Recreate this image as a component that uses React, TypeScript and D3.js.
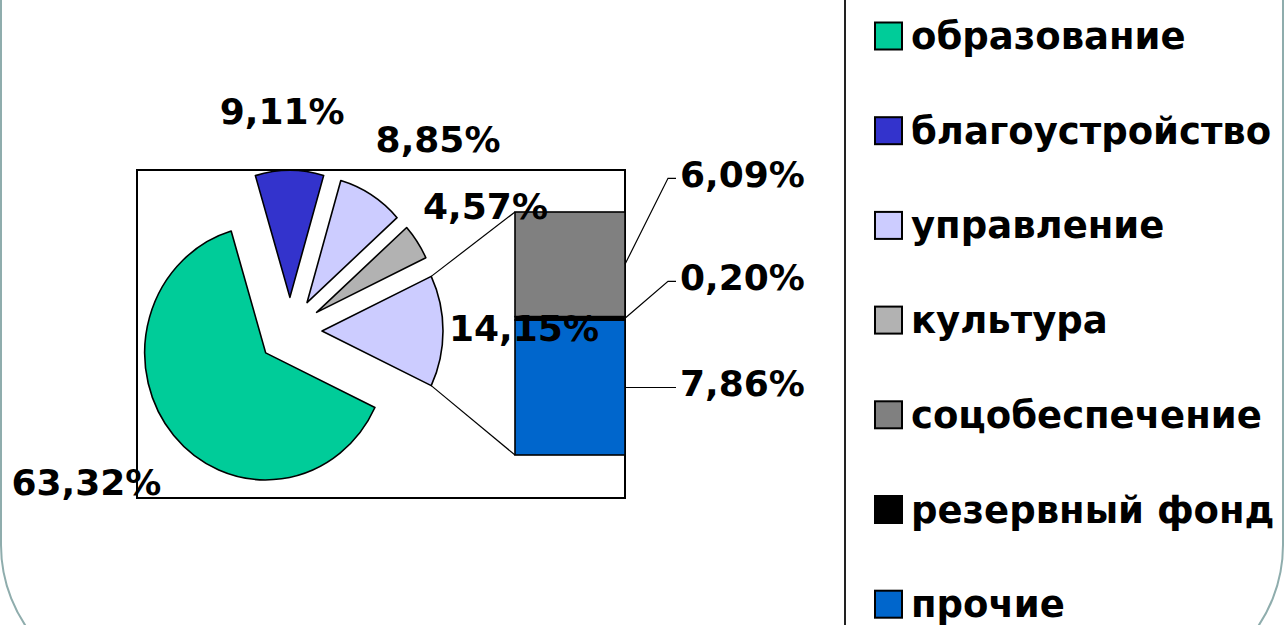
import React from "react";
import * as d3 from "d3";

// ---- data ----
const pieCategories = ["образование", "благоустройство", "управление", "культура"];
const pieValues = [63.32, 9.11, 8.85, 4.57];
const barCategories = ["соцобеспечение", "резервный фонд", "прочие"];
const barValues = [6.09, 0.2, 7.86];
const legendCategories = [
  "образование",
  "благоустройство",
  "управление",
  "культура",
  "соцобеспечение",
  "резервный фонд",
  "прочие",
];

// ---- styles ----
const colors: Record<string, string> = {
  "образование": "#00CC99",
  "благоустройство": "#3333CC",
  "управление": "#CCCCFF",
  "культура": "#B2B2B2",
  "соцобеспечение": "#808080",
  "резервный фонд": "#000000",
  "прочие": "#0066CC",
  other: "#CCCCFF",
};

const W = 1285;
const H = 625;
const FONT = "'DejaVu Sans', Verdana, sans-serif";

// layout
const plot = { x0: 137, y0: 170, x1: 625, y1: 498 };
const pieC = { x: 290, y: 331 };
const R = 121;
const KY = 1.05;
const EXPLODE = 32;
const LABEL_R = 235;
const pieLabelNudge = [
  [-25, -2],
  [-7, 15],
  [23, 7],
  [0, 5],
];
const otherLabelNudge = [-1, -3];
const bar = { x0: 515, x1: 625, y0: 212, y1: 455 };
const barLabelX = 680;
const barLabelShift = [-90, -41, -4];
const legend = { lineX: 845, sqX: 875, sq: 27, textX: 911, y0: 36, step: 94.7 };

const fmt = (v: number) => v.toFixed(2).replace(".", ",") + "%";

export default function App() {
  const otherValue = d3.sum(barValues);
  const total = d3.sum(pieValues) + otherValue;
  const otherAngle = (otherValue / total) * 2 * Math.PI;
  const start = Math.PI / 2 - otherAngle / 2;

  const items = [
    { key: "other", value: otherValue },
    ...pieCategories.map((c, i) => ({ key: c, value: pieValues[i] })),
  ];
  const pie = d3
    .pie<{ key: string; value: number }>()
    .sort(null)
    .value((d) => d.value)
    .startAngle(start)
    .endAngle(start + 2 * Math.PI);
  const arcs = pie(items);
  const arcGen = d3.arc<d3.PieArcDatum<{ key: string; value: number }>>().innerRadius(0).outerRadius(R);

  const offsetOf = (a: d3.PieArcDatum<any>) => {
    const mid = (a.startAngle + a.endAngle) / 2;
    return { dx: EXPLODE * Math.sin(mid), dy: -EXPLODE * Math.cos(mid), mid };
  };
  const toScreen = (x: number, y: number) => ({ x: pieC.x + x, y: pieC.y + y * KY });

  // other slice corners
  const otherArc = arcs[0];
  const oo = offsetOf(otherArc);
  const pTop = toScreen(oo.dx + R * Math.sin(otherArc.startAngle), oo.dy - R * Math.cos(otherArc.startAngle));
  const pBot = toScreen(oo.dx + R * Math.sin(otherArc.endAngle), oo.dy - R * Math.cos(otherArc.endAngle));

  // bar
  const yBar = d3.scaleLinear().domain([0, otherValue]).range([bar.y1, bar.y0]);
  // stacked from bottom: прочие, резервный фонд, соцобеспечение
  const stackOrder = [2, 1, 0];
  let acc = 0;
  const segs: { i: number; lo: number; hi: number }[] = [];
  stackOrder.forEach((i) => {
    segs.push({ i, lo: acc, hi: acc + barValues[i] });
    acc += barValues[i];
  });

  return (
    <svg
      width={W}
      height={H}
      style={{ position: "absolute", left: 0, top: 0, display: "block", background: "#fff" }}
      fontFamily={FONT}
    >
      {/* slide frame */}
      <rect x={1} y={-300} width={1282} height={990} rx={145} ry={145} fill="none" stroke="#8fadad" strokeWidth={2} />

      {/* plot area */}
      <rect
        x={plot.x0}
        y={plot.y0}
        width={plot.x1 - plot.x0}
        height={plot.y1 - plot.y0}
        fill="#fff"
        stroke="#000"
        strokeWidth={2}
      />

      {/* pie slices */}
      <g transform={`translate(${pieC.x},${pieC.y}) scale(1,${KY})`}>
        {arcs.map((a) => {
          const o = offsetOf(a);
          return (
            <path
              key={a.data.key}
              d={arcGen(a) || ""}
              transform={`translate(${o.dx},${o.dy})`}
              fill={colors[a.data.key]}
              stroke="#000"
              strokeWidth={1.6}
              vectorEffect="non-scaling-stroke"
              strokeLinejoin="round"
            />
          );
        })}
      </g>

      {/* connector lines */}
      <line x1={pTop.x} y1={pTop.y} x2={bar.x0} y2={bar.y0} stroke="#000" strokeWidth={1.2} />
      <line x1={pBot.x} y1={pBot.y} x2={bar.x0} y2={bar.y1} stroke="#000" strokeWidth={1.2} />

      {/* bar segments */}
      {segs.map((s) => (
        <rect
          key={barCategories[s.i]}
          x={bar.x0}
          y={yBar(s.hi)}
          width={bar.x1 - bar.x0}
          height={yBar(s.lo) - yBar(s.hi)}
          fill={colors[barCategories[s.i]]}
          stroke="#000"
          strokeWidth={1.6}
        />
      ))}

      {/* bar labels with leaders */}
      {segs.map((s) => {
        const midY = yBar((s.lo + s.hi) / 2);
        const ly = midY + barLabelShift[s.i];
        const ey = ly + 4;
        const pts =
          Math.abs(ey - midY) < 6
            ? `${bar.x1},${midY} ${barLabelX - 4},${midY}`
            : `${bar.x1},${midY} ${barLabelX - 12},${ey} ${barLabelX - 4},${ey}`;
        return (
          <g key={"bl" + s.i}>
            <polyline points={pts} fill="none" stroke="#000" strokeWidth={1.2} />
            <text x={barLabelX} y={ly} dy="0.36em" fontSize={36} fontWeight="bold" fill="#000">
              {fmt(barValues[s.i])}
            </text>
          </g>
        );
      })}

      {/* pie labels */}
      {arcs.map((a, k) => {
        const mid = (a.startAngle + a.endAngle) / 2;
        const nudge = k === 0 ? otherLabelNudge : pieLabelNudge[k - 1];
        const x = pieC.x + LABEL_R * Math.sin(mid) + nudge[0];
        const y = pieC.y - LABEL_R * Math.cos(mid) + nudge[1];
        return (
          <text
            key={"pl" + a.data.key}
            x={x}
            y={y}
            dy="0.36em"
            textAnchor="middle"
            fontSize={36}
            fontWeight="bold"
            fill="#000"
          >
            {fmt(a.data.value)}
          </text>
        );
      })}

      {/* legend */}
      <line x1={legend.lineX} y1={0} x2={legend.lineX} y2={H} stroke="#222" strokeWidth={2} />
      {legendCategories.map((c, i) => {
        const cy = legend.y0 + i * legend.step;
        return (
          <g key={"lg" + c}>
            <rect
              x={legend.sqX}
              y={cy - legend.sq / 2}
              width={legend.sq}
              height={legend.sq}
              fill={colors[c]}
              stroke="#000"
              strokeWidth={2}
            />
            <text x={legend.textX} y={cy + 13} fontSize={37} fontWeight="bold" fill="#000">
              {c}
            </text>
          </g>
        );
      })}
    </svg>
  );
}
